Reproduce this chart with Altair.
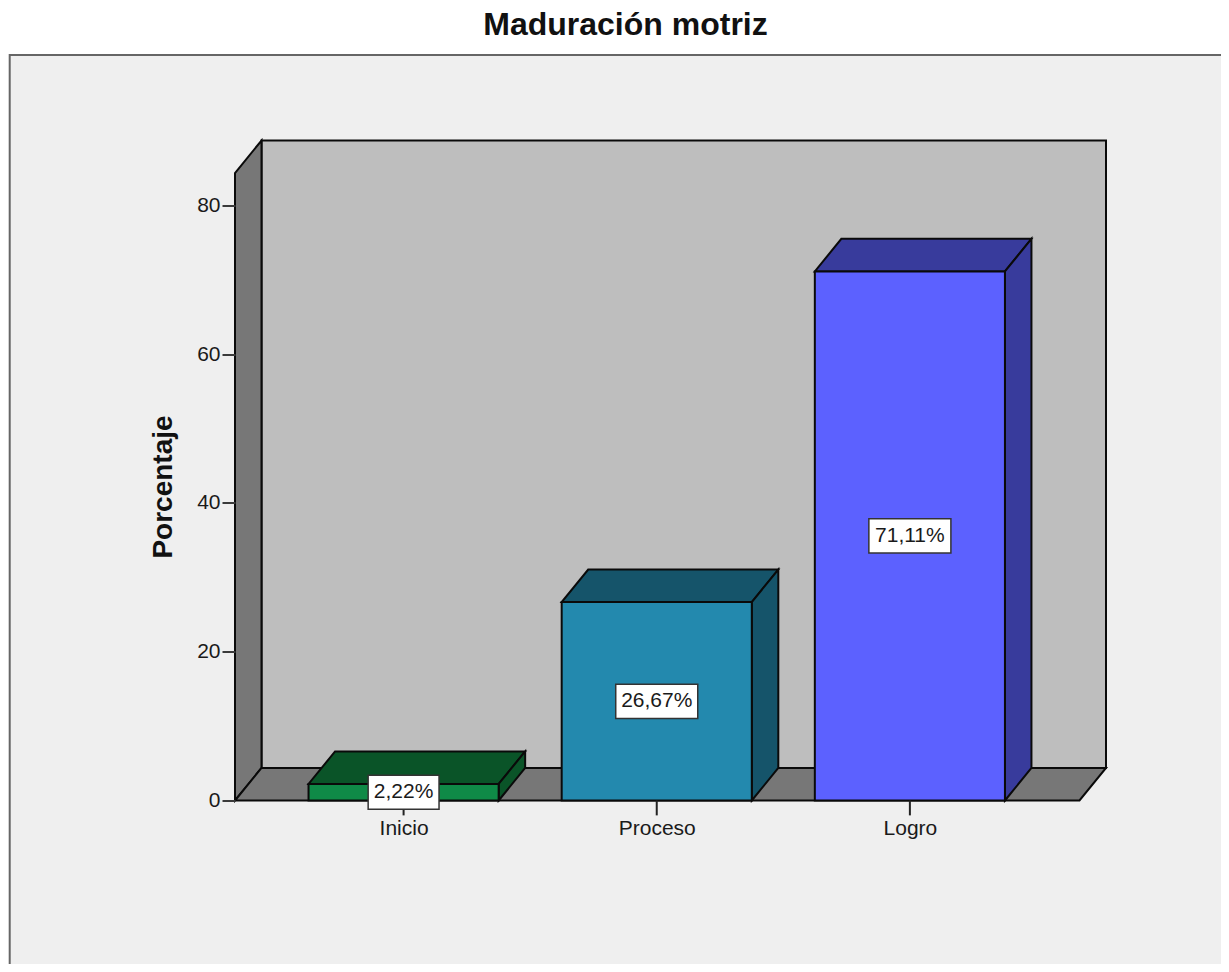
import altair as alt
import pandas as pd

# Values
categories = ["Inicio", "Proceso", "Logro"]
positions = [0, 1, 2]
percentages = [2.22, 26.67, 71.11]
label_texts = ["2,22%", "26,67%", "71,11%"]
front_colors = ["#0F8A47", "#2389AE", "#5C61FF"]
shade_colors = ["#0A5428", "#15546A", "#383B9C"]

# Axis-unit geometry of the 3-D box
BAR_HALF = 0.3755
DEPTH_X = 0.1047
DEPTH_Y = 4.37
FLOOR_LEFT = -0.666
FLOOR_RIGHT = 2.670
WALL_TOP = 88.7
PANEL = dict(x=-1.556, x2=3.4, y=100.2, y2=-30)
X_DOMAIN = [FLOOR_LEFT, FLOOR_RIGHT + DEPTH_X]
LABEL_HALF_W = [0.14, 0.162, 0.162]
LABEL_HALF_H = 2.3

rows = []


def poly(name, color, pts):
    closed = pts + [pts[0], pts[1]]
    for i, (u, v) in enumerate(closed):
        rows.append(dict(poly=name, color=color, seq=i, u=u, v=v))


dx, dy = DEPTH_X, DEPTH_Y
poly("wall", "#BEBEBE", [(FLOOR_LEFT + dx, WALL_TOP), (FLOOR_RIGHT + dx, WALL_TOP),
                         (FLOOR_RIGHT + dx, dy), (FLOOR_LEFT + dx, dy)])
poly("side", "#777777", [(FLOOR_LEFT, 0), (FLOOR_LEFT + dx, dy),
                         (FLOOR_LEFT + dx, WALL_TOP), (FLOOR_LEFT, WALL_TOP - dy)])
poly("floor", "#777777", [(FLOOR_LEFT, 0), (FLOOR_RIGHT, 0),
                          (FLOOR_RIGHT + dx, dy), (FLOOR_LEFT + dx, dy)])
for c, p, val, fc, sc in zip(categories, positions, percentages, front_colors, shade_colors):
    l, r = p - BAR_HALF, p + BAR_HALF
    poly(c + "-top", sc, [(l, val), (r, val), (r + dx, val + dy), (l + dx, val + dy)])
    poly(c + "-right", sc, [(r, 0), (r + dx, dy), (r + dx, val + dy), (r, val)])
    poly(c + "-front", fc, [(l, 0), (r, 0), (r, val), (l, val)])

polys = pd.DataFrame(rows)
bars = pd.DataFrame(dict(
    pos=positions, value=percentages, text=label_texts,
    mid=[v / 2 for v in percentages],
    left=[p - w for p, w in zip(positions, LABEL_HALF_W)],
    right=[p + w for p, w in zip(positions, LABEL_HALF_W)],
    low=[v / 2 - LABEL_HALF_H for v in percentages],
    high=[v / 2 + LABEL_HALF_H for v in percentages],
    tick0=[0, 0, 0], tick1=[-2.0, -2.0, -2.0],
))

x_scale = alt.Scale(domain=X_DOMAIN, nice=False, zero=False)
y_scale = alt.Scale(domain=[0, WALL_TOP], nice=False, zero=False)
label_expr = "datum.value == 0 ? 'Inicio' : datum.value == 1 ? 'Proceso' : 'Logro'"
FONT = "Liberation Sans"

x_axis = alt.Axis(values=positions, labelExpr=label_expr, title=None, domain=False, ticks=False,
                  grid=False, labelFont=FONT, labelFontSize=21, labelColor="#1a1a1a",
                  labelPadding=17, labelAngle=0, labelOverlap=False, zindex=1)
y_axis = alt.Axis(values=[0, 20, 40, 60, 80], title="Porcentaje", domain=False, grid=False,
                  tickSize=13, tickWidth=2, tickColor="#3a3a3a", labelFont=FONT, labelFontSize=21,
                  labelColor="#1a1a1a", labelPadding=2, titleFont=FONT, titleFontSize=28,
                  titleFontWeight="bold", titleColor="#111111", titleX=-72, titleY=346,
                  titleAngle=270, titleBaseline="middle", titleAlign="center", zindex=1)

panel = alt.Chart(pd.DataFrame([PANEL])).mark_rect(
    fill="#EFEFEF", stroke="#666666", strokeWidth=2
).encode(
    x=alt.X("x:Q", scale=x_scale, axis=x_axis), x2="x2:Q",
    y=alt.Y("y:Q", scale=y_scale, axis=y_axis), y2="y2:Q",
)

faces = alt.Chart(polys).mark_line(
    filled=True, stroke="#0a0a0a", strokeWidth=2, strokeJoin="miter", interpolate="linear"
).encode(
    x=alt.X("u:Q", scale=x_scale),
    y=alt.Y("v:Q", scale=y_scale),
    fill=alt.Fill("color:N", scale=None),
    detail="poly:N",
    order="seq:Q",
)

ticks = alt.Chart(bars).mark_rule(color="#222222", strokeWidth=2).encode(
    x=alt.X("pos:Q", scale=x_scale),
    y=alt.Y("tick0:Q", scale=y_scale), y2="tick1:Q",
)

boxes = alt.Chart(bars).mark_rect(fill="white", stroke="#333333", strokeWidth=1.5).encode(
    x=alt.X("left:Q", scale=x_scale), x2="right:Q",
    y=alt.Y("low:Q", scale=y_scale), y2="high:Q",
)

texts = alt.Chart(bars).mark_text(font=FONT, fontSize=21, color="#1a1a1a", baseline="middle").encode(
    x=alt.X("pos:Q", scale=x_scale),
    y=alt.Y("mid:Q", scale=y_scale),
    text="text:N",
)

chart = alt.layer(panel, faces, ticks, boxes, texts).properties(
    width=871,
    height=660,
    title=alt.TitleParams("Maduración motriz", font=FONT, fontSize=32, fontWeight="bold",
                          color="#111111", anchor="middle", frame="group", dx=-45, offset=12),
    padding=alt.Padding(left=227, top=132.5, right=115, bottom=163),
    autosize=alt.AutoSizeParams(type="none"),
    background="white",
).configure_view(stroke=None)

chart.save("out.html", embed_options={"renderer": "svg", "actions": False})
